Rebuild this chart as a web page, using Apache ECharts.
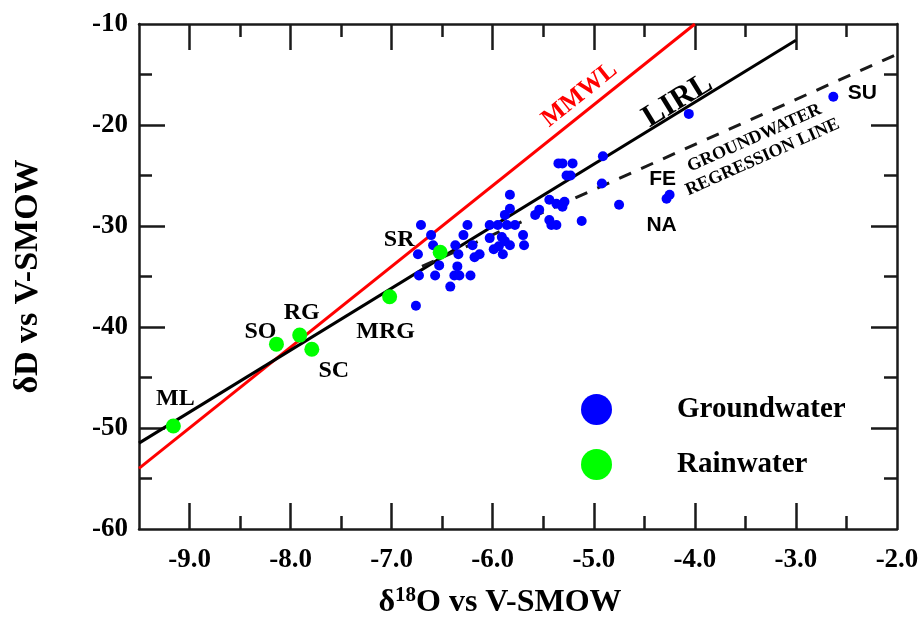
<!DOCTYPE html>
<html>
<head>
<meta charset="utf-8">
<script src="https://cdn.jsdelivr.net/npm/echarts@6/dist/echarts.min.js"></script>
<style>
  html, body { margin: 0; padding: 0; background: #ffffff; }
  #chart { width: 924px; height: 621px; }
</style>
</head>
<body>
<div id="chart"></div>
<script>
// Groundwater samples (per mil vs V-SMOW)
const gwO18 = [
  -6.71, -6.61, -6.59, -6.74, -6.73, -6.57, -6.53, -6.42, -6.37, -6.34,
  -6.35, -6.38, -6.33, -6.22, -6.29, -6.25, -6.20, -6.18, -6.13, -6.03,
  -5.95, -6.03, -5.99, -5.91, -5.90, -5.94, -5.83, -5.83, -5.88, -5.86,
  -5.78, -5.83, -5.88, -5.70, -5.69, -5.58, -5.54, -5.44, -5.37, -5.29,
  -5.31, -5.44, -5.42, -5.37, -5.35, -5.31, -5.21, -5.27, -5.23, -5.12,
  -4.91, -4.92, -4.75, -4.28, -4.25, -4.06, -2.63, -6.76
];
const gwD = [
  -29.9, -30.9, -31.9, -32.8, -34.9, -34.9, -33.9, -36.0, -31.9, -32.8,
  -34.0, -34.9, -34.9, -34.9, -30.9, -29.9, -31.9, -33.1, -32.8, -29.9,
  -29.9, -31.2, -32.3, -31.1, -32.8, -32.0, -26.9, -28.3, -28.9, -29.9,
  -29.9, -31.9, -31.5, -30.9, -31.9, -28.9, -28.4, -27.4, -27.8, -27.6,
  -28.1, -29.4, -29.9, -29.9, -23.8, -23.8, -23.8, -25.0, -25.0, -29.5,
  -23.1, -25.8, -27.9, -27.3, -26.9, -18.9, -17.2, -37.9
];
// Named groundwater sites
const gwSiteIndex = [56, 54, 53];
const gwSiteName = ['SU', 'FE', 'NA'];

// Rainwater stations
const rainNames = ['ML', 'SO', 'RG', 'SC', 'MRG', 'SR'];
const rainO18 = [-9.16, -8.14, -7.91, -7.79, -7.02, -6.52];
const rainD = [-49.8, -41.7, -40.8, -42.2, -37.0, -32.6];

// Reference lines (end points)
const mmwlO18 = [-9.5, -4.0];
const mmwlD = [-54.0, -10.0];
const lirlO18 = [-9.5, -3.0];
const lirlD = [-51.5, -11.6];
const gwrlO18 = [-6.7, -2.0];
const gwrlD = [-34.0, -13.0];

// Axis ticks and labels
const xLabels = [-9, -8, -7, -6, -5, -4, -3, -2];
const xMajor = [-9, -8, -7, -6, -5, -4, -3];
const xMinor = [-8.5, -7.5, -6.5, -5.5, -4.5, -3.5, -2.5];
const yLabels = [-60, -50, -40, -30, -20, -10];
const yMajor = [-50, -40, -30, -20];
const yMinor = [-55, -45, -35, -25, -15];

const SERIF = '"Liberation Serif", "Times New Roman", serif';
const SANS = '"Liberation Sans", Arial, sans-serif';
const INK = '#1a1a1a';

function frameAxis(kind, position, ticks, tickLen, withLine, labels, extra) {
  const isX = kind === 'x';
  const ax = {
    type: 'value',
    position: position,
    min: isX ? -9.5 : -60,
    max: isX ? -2.0 : -10,
    axisLine: { show: withLine, onZero: false, lineStyle: { color: INK, width: 2.5 } },
    axisTick: { show: true, inside: true, length: tickLen, customValues: ticks,
                lineStyle: { color: INK, width: 2.5 } },
    axisLabel: labels ? {
      show: true, customValues: labels, showMinLabel: true, showMaxLabel: true,
      margin: isX ? 18 : 11,
      fontFamily: SERIF, fontWeight: 'bold', fontSize: 27, color: '#000',
      formatter: v => isX ? Number(v).toFixed(1) : String(v)
    } : { show: false },
    splitLine: { show: false }
  };
  return Object.assign(ax, extra || {});
}

const gwData = gwO18.map((o, i) => {
  const item = { value: [o, gwD[i]] };
  const k = gwSiteIndex.indexOf(i);
  if (k >= 0) {
    const offsets = { SU: [29, -4], FE: [-7, -15], NA: [-5, 26] };
    item.label = { show: true, formatter: gwSiteName[k], position: 'inside',
                   offset: offsets[gwSiteName[k]],
                   fontFamily: SANS, fontWeight: 'bold', fontSize: 21, color: '#000' };
  }
  return item;
});

const rainOffsets = { ML: [2, -27], SO: [-16, -12], RG: [2, -22], SC: [22, 22], MRG: [-4, 35], SR: [-41, -12] };
const rainData = rainO18.map((o, i) => ({
  value: [o, rainD[i]],
  label: { show: true, formatter: rainNames[i], position: 'inside', offset: rainOffsets[rainNames[i]],
           fontFamily: SERIF, fontWeight: 'bold', fontSize: 24, color: '#000' }
}));

const zip = (a, b) => a.map((v, i) => [v, b[i]]);

// Text set along the reference lines
function lineText(text, at, angle, size, color) {
  return {
    value: at,
    label: { show: true, formatter: text, position: 'inside', rotate: angle,
             fontFamily: SERIF, fontWeight: 'bold', fontSize: size, color: color }
  };
}

const chart = echarts.init(document.getElementById('chart'), null, { renderer: 'canvas' });
chart.setOption({
  backgroundColor: '#ffffff',
  animation: false,
  grid: { left: 139, right: 27, top: 24, bottom: 92, containLabel: false, outerBoundsMode: 'none' },
  legend: {
    data: ['Groundwater', 'Rainwater'],
    orient: 'vertical',
    left: 581, top: 394,
    padding: 0,
    icon: 'circle',
    itemWidth: 31, itemHeight: 31, itemGap: 24,
    itemStyle: { opacity: 1 },
    textStyle: { fontFamily: SERIF, fontWeight: 'bold', fontSize: 29, color: '#000',
                 padding: [0, 0, 0, 60] }
  },
  xAxis: [
    frameAxis('x', 'bottom', xMajor, 26, true, xLabels, {
      name: '{a|δ}{s|18}{a|O vs V-SMOW}',
      nameLocation: 'middle', nameGap: 56,
      nameTextStyle: {
        padding: [0, 36, 0, 0],
        rich: {
          a: { fontFamily: SERIF, fontWeight: 'bold', fontSize: 32, color: '#000' },
          s: { fontFamily: SERIF, fontWeight: 'bold', fontSize: 21, color: '#000', verticalAlign: 'top', padding: [0, 0, 14, 0] }
        }
      }
    }),
    frameAxis('x', 'bottom', xMinor, 13, false, null),
    frameAxis('x', 'top', xMajor, 26, true, null),
    frameAxis('x', 'top', xMinor, 13, false, null)
  ],
  yAxis: [
    frameAxis('y', 'left', yMajor, 26, true, yLabels, {
      name: 'δD vs V-SMOW',
      nameLocation: 'middle', nameGap: 94, nameRotate: 90,
      nameTextStyle: { fontFamily: SERIF, fontWeight: 'bold', fontSize: 34, color: '#000' }
    }),
    frameAxis('y', 'left', yMinor, 13, false, null),
    frameAxis('y', 'right', yMajor, 26, true, null),
    frameAxis('y', 'right', yMinor, 13, false, null)
  ],
  series: [
    {
      name: 'MMWL', type: 'line', data: zip(mmwlO18, mmwlD), symbol: 'none', z: 2,
      lineStyle: { color: '#ff0000', width: 3 }
    },
    {
      name: 'LIRL', type: 'line', data: zip(lirlO18, lirlD), symbol: 'none', z: 3,
      lineStyle: { color: '#000000', width: 3 }
    },
    {
      name: 'Groundwater regression line', type: 'line', data: zip(gwrlO18, gwrlD), symbol: 'none', z: 3,
      lineStyle: { color: '#1a1a1a', width: 3, type: [13, 11] }
    },
    {
      name: 'Groundwater', type: 'scatter', data: gwData, symbol: 'circle', symbolSize: 10, z: 5,
      itemStyle: { color: '#0000ff', opacity: 1 }
    },
    {
      name: 'Rainwater', type: 'scatter', data: rainData, symbol: 'circle', symbolSize: 15, z: 6,
      itemStyle: { color: '#00ff00', opacity: 1 }
    },
    {
      name: 'line-text', type: 'scatter', symbolSize: 0, z: 7, silent: true,
      itemStyle: { opacity: 1 },
      data: [
        lineText('MMWL', [-5.14, -17.0], 38.7, 25, '#ff0000'),
        lineText('LIRL', [-4.17, -17.6], 31.6, 31, '#000000'),
        lineText('GROUNDWATER', [-3.41, -21.3], 24, 18, '#000000'),
        lineText('REGRESSION LINE', [-3.33, -23.2], 24, 18, '#000000')
      ]
    }
  ]
});
</script>
</body>
</html>
